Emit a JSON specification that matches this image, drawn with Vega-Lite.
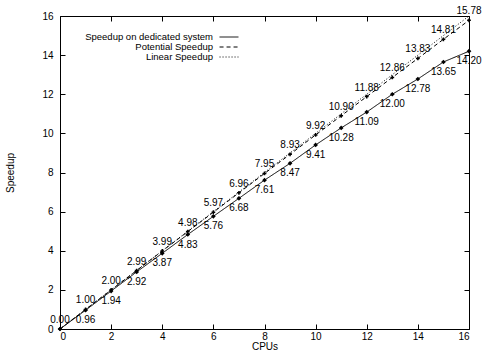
{
  "$schema": "https://vega.github.io/schema/vega-lite/v6.json",
  "width": 409,
  "height": 313,
  "autosize": {"type": "none"},
  "padding": {"left": 60, "top": 16, "right": 13, "bottom": 21},
  "background": "white",
  "config": {
    "font": "Liberation Sans",
    "view": {"stroke": "black", "strokeWidth": 1},
    "axis": {"labelFontSize": 10, "labelColor": "black", "titleFontSize": 10, "titleFontWeight": "normal", "titleColor": "black", "grid": false, "domain": false, "tickColor": "black", "tickSize": -5, "labelPadding": 12}
  },
  "datasets": {
    "speed": [
      {"cpus": 0, "speedup": 0.00, "series": "Speedup on dedicated system"},
      {"cpus": 1, "speedup": 0.96, "series": "Speedup on dedicated system"},
      {"cpus": 2, "speedup": 1.94, "series": "Speedup on dedicated system"},
      {"cpus": 3, "speedup": 2.92, "series": "Speedup on dedicated system"},
      {"cpus": 4, "speedup": 3.87, "series": "Speedup on dedicated system"},
      {"cpus": 5, "speedup": 4.83, "series": "Speedup on dedicated system"},
      {"cpus": 6, "speedup": 5.76, "series": "Speedup on dedicated system"},
      {"cpus": 7, "speedup": 6.68, "series": "Speedup on dedicated system"},
      {"cpus": 8, "speedup": 7.61, "series": "Speedup on dedicated system"},
      {"cpus": 9, "speedup": 8.47, "series": "Speedup on dedicated system"},
      {"cpus": 10, "speedup": 9.41, "series": "Speedup on dedicated system"},
      {"cpus": 11, "speedup": 10.28, "series": "Speedup on dedicated system"},
      {"cpus": 12, "speedup": 11.09, "series": "Speedup on dedicated system"},
      {"cpus": 13, "speedup": 12.00, "series": "Speedup on dedicated system"},
      {"cpus": 14, "speedup": 12.78, "series": "Speedup on dedicated system"},
      {"cpus": 15, "speedup": 13.65, "series": "Speedup on dedicated system"},
      {"cpus": 16, "speedup": 14.20, "series": "Speedup on dedicated system"},
      {"cpus": 0, "speedup": 0.00, "series": "Potential Speedup"},
      {"cpus": 1, "speedup": 1.00, "series": "Potential Speedup"},
      {"cpus": 2, "speedup": 2.00, "series": "Potential Speedup"},
      {"cpus": 3, "speedup": 2.99, "series": "Potential Speedup"},
      {"cpus": 4, "speedup": 3.99, "series": "Potential Speedup"},
      {"cpus": 5, "speedup": 4.98, "series": "Potential Speedup"},
      {"cpus": 6, "speedup": 5.97, "series": "Potential Speedup"},
      {"cpus": 7, "speedup": 6.96, "series": "Potential Speedup"},
      {"cpus": 8, "speedup": 7.95, "series": "Potential Speedup"},
      {"cpus": 9, "speedup": 8.93, "series": "Potential Speedup"},
      {"cpus": 10, "speedup": 9.92, "series": "Potential Speedup"},
      {"cpus": 11, "speedup": 10.90, "series": "Potential Speedup"},
      {"cpus": 12, "speedup": 11.88, "series": "Potential Speedup"},
      {"cpus": 13, "speedup": 12.86, "series": "Potential Speedup"},
      {"cpus": 14, "speedup": 13.83, "series": "Potential Speedup"},
      {"cpus": 15, "speedup": 14.81, "series": "Potential Speedup"},
      {"cpus": 16, "speedup": 15.78, "series": "Potential Speedup"},
      {"cpus": 0, "speedup": 0, "series": "Linear Speedup"},
      {"cpus": 16, "speedup": 16, "series": "Linear Speedup"}
    ]
  },
  "data": {"name": "speed"},
  "resolve": {"axis": {"x": "independent", "y": "independent"}},
  "layer": [
    {
      "mark": {"type": "line", "color": "black", "strokeWidth": 1},
      "encoding": {
        "x": {"field": "cpus", "type": "quantitative", "scale": {"domain": [0, 16], "nice": false}, "axis": {"orient": "bottom", "values": [0, 2, 4, 6, 8, 10, 12, 14, 16], "title": "CPUs", "titlePadding": 0, "labelPadding": 7}},
        "y": {"field": "speedup", "type": "quantitative", "scale": {"domain": [0, 16], "nice": false}, "axis": {"orient": "left", "values": [0, 2, 4, 6, 8, 10, 12, 14, 16], "title": "Speedup", "titlePadding": 26}},
        "strokeDash": {
          "field": "series", "type": "nominal",
          "scale": {"domain": ["Speedup on dedicated system", "Potential Speedup", "Linear Speedup"], "range": [[1, 0], [4, 3], [1, 2]]},
          "legend": {"orient": "none", "legendX": 164, "legendY": 16, "title": null, "symbolType": "M-2.1,0H2.1", "symbolSize": 81, "symbolStrokeColor": "black", "symbolStrokeWidth": 1, "symbolFillColor": "transparent", "labelAlign": "right", "labelOffset": -21, "labelFontSize": 9.5, "labelColor": "black", "rowPadding": -1}
        }
      }
    },
    {
      "transform": [{"filter": "datum.series === 'Speedup on dedicated system'"}],
      "mark": {"type": "point", "shape": "diamond", "filled": true, "size": 22, "color": "black", "opacity": 1},
      "encoding": {
        "x": {"field": "cpus", "type": "quantitative", "axis": {"orient": "top", "values": [0, 2, 4, 6, 8, 10, 12, 14, 16], "labels": false, "title": null}},
        "y": {"field": "speedup", "type": "quantitative", "axis": {"orient": "right", "values": [0, 2, 4, 6, 8, 10, 12, 14, 16], "labels": false, "title": null}}
      }
    },
    {
      "transform": [{"filter": "datum.series === 'Potential Speedup'"}],
      "mark": {"type": "point", "shape": "cross", "filled": true, "size": 14, "color": "black", "opacity": 1},
      "encoding": {
        "x": {"field": "cpus", "type": "quantitative", "axis": null},
        "y": {"field": "speedup", "type": "quantitative", "axis": null}
      }
    },
    {
      "transform": [{"filter": "datum.series === 'Potential Speedup'"}],
      "mark": {"type": "text", "fontSize": 10, "color": "black", "dy": -9, "baseline": "middle", "align": "center"},
      "encoding": {
        "x": {"field": "cpus", "type": "quantitative", "axis": null},
        "y": {"field": "speedup", "type": "quantitative", "axis": null},
        "text": {"field": "speedup", "type": "quantitative", "format": ".2f"}
      }
    },
    {
      "transform": [{"filter": "datum.series === 'Speedup on dedicated system' && datum.cpus > 0"}],
      "mark": {"type": "text", "fontSize": 10, "color": "black", "dy": 10, "baseline": "middle", "align": "center"},
      "encoding": {
        "x": {"field": "cpus", "type": "quantitative", "axis": null},
        "y": {"field": "speedup", "type": "quantitative", "axis": null},
        "text": {"field": "speedup", "type": "quantitative", "format": ".2f"}
      }
    }
  ]
}
